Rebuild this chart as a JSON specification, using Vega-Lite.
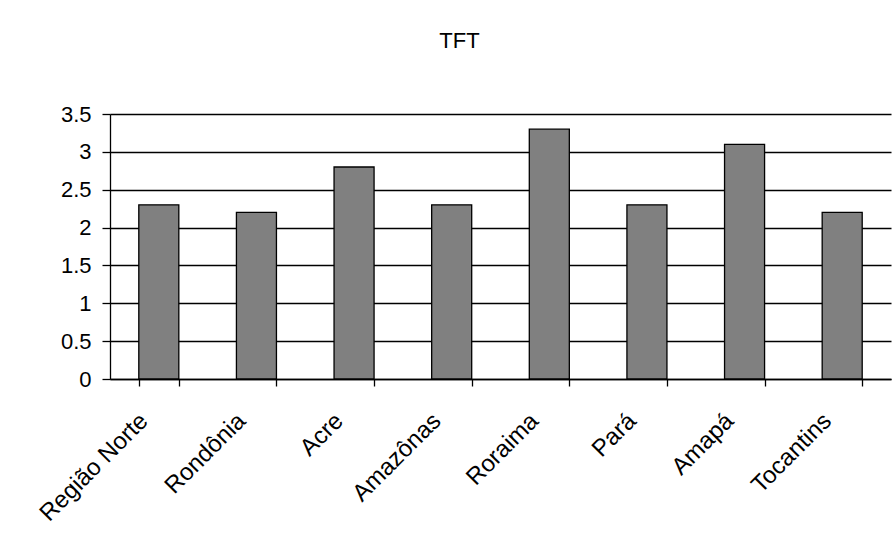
{
  "$schema": "https://vega.github.io/schema/vega-lite/v6.json",
  "autosize": "none",
  "width": 781,
  "height": 265,
  "padding": {"left": 110, "top": 114, "right": 2, "bottom": 159},
  "background": "white",
  "title": {
    "text": "TFT",
    "font": "Liberation Sans",
    "fontSize": 22,
    "fontWeight": "normal",
    "color": "black",
    "anchor": "middle",
    "dx": -41,
    "baseline": "alphabetic",
    "offset": 33
  },
  "data": {
    "values": [
      {"regiao": "Região Norte", "tft": 2.3},
      {"regiao": "Rondônia", "tft": 2.2},
      {"regiao": "Acre", "tft": 2.8},
      {"regiao": "Amazônas", "tft": 2.3},
      {"regiao": "Roraima", "tft": 3.3},
      {"regiao": "Pará", "tft": 2.3},
      {"regiao": "Amapá", "tft": 3.1},
      {"regiao": "Tocantins", "tft": 2.2}
    ]
  },
  "mark": {"type": "bar", "fill": "#808080", "stroke": "black", "strokeWidth": 1.3},
  "encoding": {
    "x": {
      "field": "regiao",
      "type": "nominal",
      "sort": null,
      "title": null,
      "scale": {"paddingInner": 0.59, "paddingOuter": 0.295},
      "axis": {
        "tickBand": "extent",
        "domainColor": "black",
        "domainWidth": 1.3,
        "tickColor": "black",
        "tickWidth": 1.3,
        "tickSize": 7,
        "labelAngle": -45,
        "labelAlign": "right",
        "labelBaseline": "middle",
        "labelPadding": 31,
        "labelOffset": -15,
        "labelFont": "Liberation Sans",
        "labelFontSize": 24,
        "labelColor": "black",
        "labelOverlap": false,
        "grid": false
      }
    },
    "y": {
      "field": "tft",
      "type": "quantitative",
      "title": null,
      "scale": {"domain": [0, 3.5], "nice": false},
      "axis": {
        "values": [0, 0.5, 1, 1.5, 2, 2.5, 3, 3.5],
        "format": "~g",
        "domainColor": "black",
        "domainWidth": 1.3,
        "tickColor": "black",
        "tickWidth": 1.3,
        "tickSize": 8,
        "labelPadding": 11,
        "labelFont": "Liberation Sans",
        "labelFontSize": 22,
        "labelColor": "black",
        "grid": true,
        "gridColor": "black",
        "gridWidth": 1.3,
        "gridOpacity": 1
      }
    }
  },
  "config": {"view": {"stroke": null}}
}
